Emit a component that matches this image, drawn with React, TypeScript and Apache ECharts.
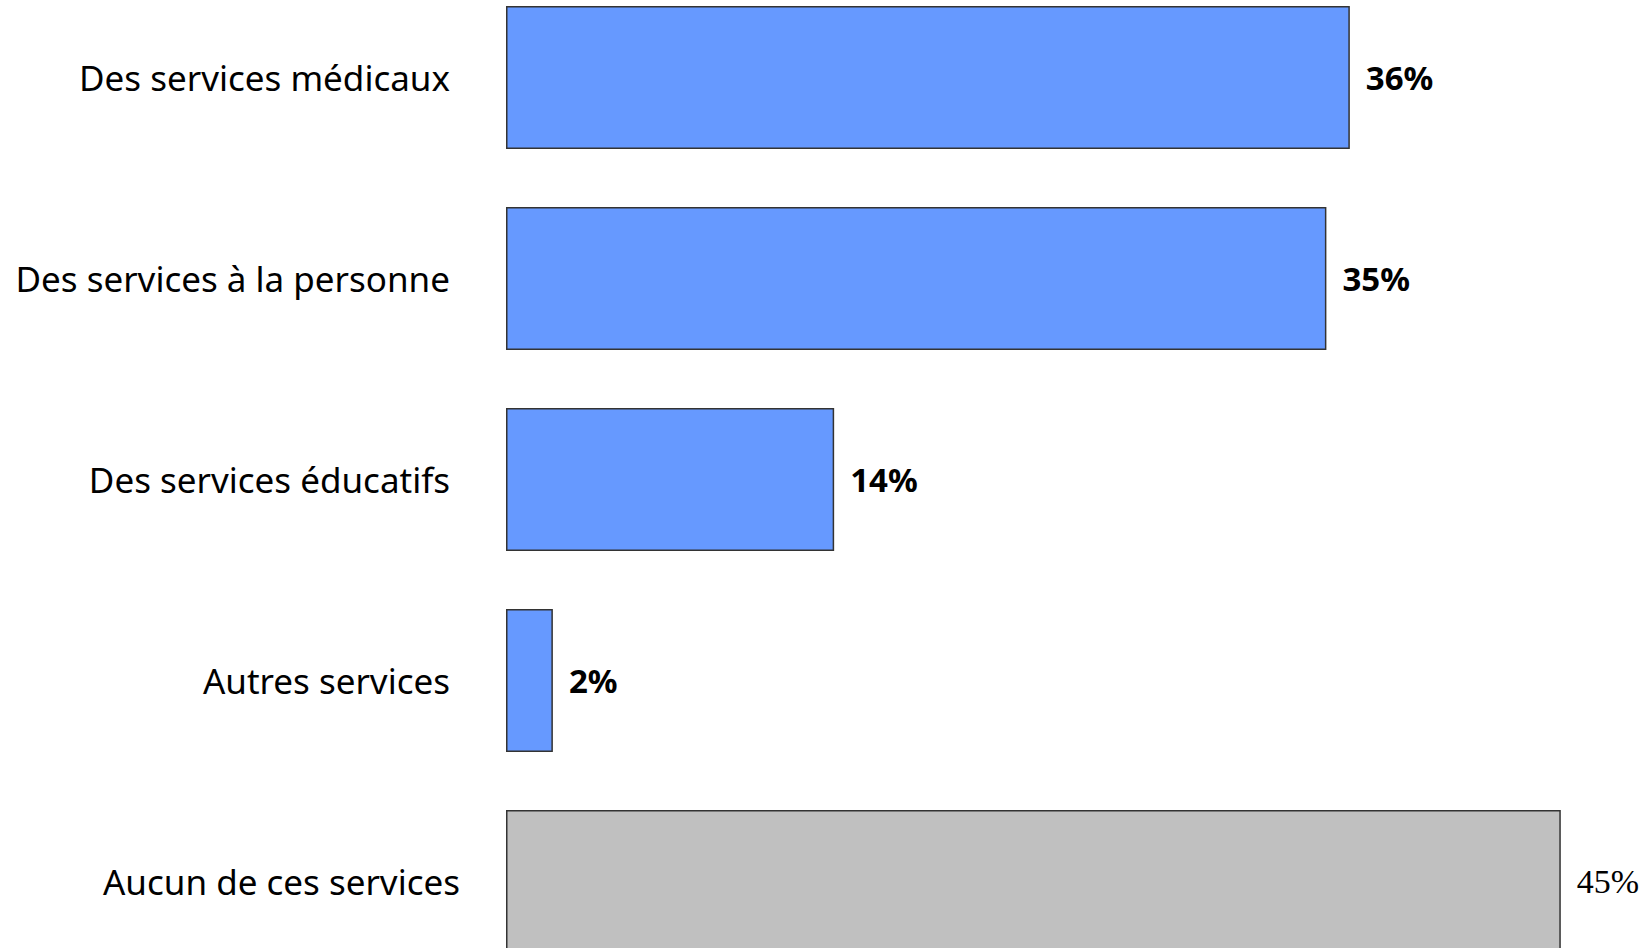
import React, { useEffect, useRef } from "react";
import * as echarts from "echarts";

const categories = [
  "Des services médicaux",
  "Des services à la personne",
  "Des services éducatifs",
  "Autres services",
  "Aucun de ces services",
];
const values = [36, 35, 14, 2, 45];
const barColors = ["#6699FF", "#6699FF", "#6699FF", "#6699FF", "#C0C0C0"];

export default function App() {
  const ref = useRef<HTMLDivElement>(null);
  useEffect(() => {
    if (!ref.current) return;
    const chart = echarts.init(ref.current, undefined, { renderer: "svg" });
    const last = categories.length - 1;
    chart.setOption({
      animation: false,
      backgroundColor: "#FFFFFF",
      grid: {
        left: 506,
        top: 0,
        width: 1172,
        height: 1005,
        containLabel: false,
        outerBoundsMode: "none",
      },
      xAxis: { type: "value", min: 0, max: 50, show: false },
      yAxis: {
        type: "category",
        inverse: true,
        data: categories,
        axisLine: { show: false },
        axisTick: { show: false },
        splitLine: { show: false },
        axisLabel: {
          margin: 46,
          fontFamily: "Noto Sans",
          fontSize: 35,
          color: "#000000",
          formatter: (v: string) => (v === categories[last] ? `{b|${v}}` : `{a|${v}}`),
          rich: {
            a: { fontFamily: "Noto Sans", fontSize: 35, color: "#000000", padding: [0, 10, 0, 0] },
            b: { fontFamily: "Noto Sans", fontSize: 35, color: "#000000" },
          },
        },
      },
      series: [
        {
          type: "bar",
          barWidth: 143,
          data: values.map((v, i) => ({
            value: v,
            itemStyle: { color: barColors[i], borderColor: "#333333", borderWidth: 1.5 },
            label:
              i === last
                ? { fontFamily: "Liberation Serif", fontWeight: "normal", fontSize: 34, color: "#000000" }
                : { fontFamily: "Noto Sans", fontWeight: "bold", fontSize: 33, color: "#000000" },
          })),
          label: {
            show: true,
            position: "right",
            distance: 16,
            formatter: "{c}%",
          },
        },
      ],
    });
    return () => chart.dispose();
  }, []);
  return (
    <div
      ref={ref}
      style={{ position: "fixed", left: 0, top: -23, width: 1678, height: 1005, background: "#FFFFFF" }}
    />
  );
}
